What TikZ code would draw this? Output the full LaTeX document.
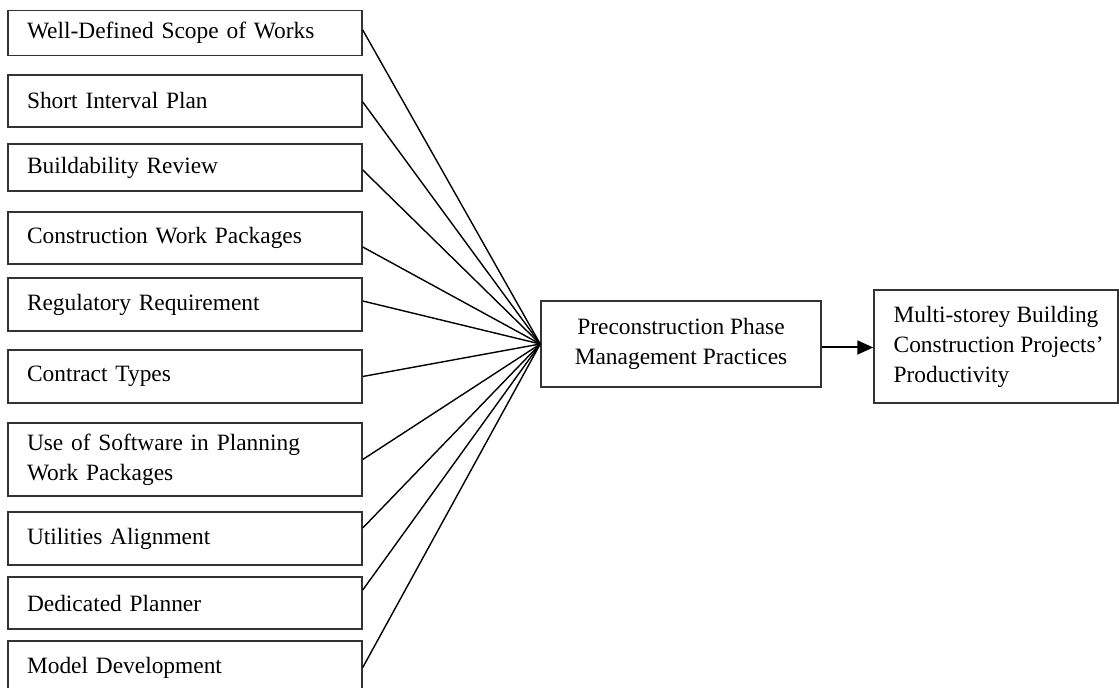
\documentclass[tikz,border=0pt]{standalone}
\usepackage{fontspec}
\setmainfont{Liberation Serif}
\usetikzlibrary{arrows.meta}
\begin{document}
\begin{tikzpicture}[x=0.5pt,y=-0.5pt,
  every node/.style={font=\fontsize{11.7}{15}\selectfont},
  factor/.style={draw=black!80,line width=0.75pt,rectangle,inner xsep=9.5pt,inner ysep=0pt,
    minimum width=177pt,text width=158pt,align=left},
  hub/.style={draw=black!80,line width=0.75pt,rectangle,inner sep=0pt,
    minimum width=140pt,minimum height=43pt,align=center},
  outcome/.style={draw=black!80,line width=0.75pt,rectangle,inner sep=0pt,
    minimum width=122pt,minimum height=56.5pt},
  caption/.style={inner sep=0pt,align=left},
  link/.style={black,line width=0.7pt},
  flow/.style={black,line width=1pt,-{Triangle[length=8pt,width=7pt]}}]
\useasboundingbox (0,0) rectangle (1119,688);
\clip (0,0) rectangle (1119,688);
\fill[white] (0,0) rectangle (1119,688);

% practice factors
\node[factor,minimum height=22.3pt] (f1) at (185,33) {Well-Defined Scope of Works};
\node[factor,minimum height=26pt] (f2) at (185,101) {Short Interval Plan};
\node[factor,minimum height=23.5pt] (f3) at (185,167.5) {Buildability Review};
\node[factor,minimum height=26pt] (f4) at (185,238) {Construction Work Packages};
\node[factor,minimum height=26.5pt] (f5) at (185,304.5) {Regulatory Requirement};
\node[factor,minimum height=26.5pt] (f6) at (185,376.5) {Contract Types};
\node[factor,minimum height=36.5pt] (f7) at (185,459.5) {Use of Software in Planning\\Work Packages};
\node[factor,minimum height=26.5pt] (f8) at (185,538.5) {Utilities Alignment};
\node[factor,minimum height=26pt] (f9) at (185,603) {Dedicated Planner};
\node[factor,minimum height=26.5pt] (f10) at (185,667.5) {Model Development};

% central construct and outcome
\node[hub] (mid) at (681,344) {Preconstruction Phase\\Management Practices};
\node[outcome] (out) at (996,346.5) {};
\node[caption,anchor=west] (outtext) at ([xshift=10pt]out.west)
  {Multi-storey Building\\Construction Projects’\\Productivity};

% links into the central construct
\draw[link] ([yshift=1.5pt]f1.east) -- (mid.west);
\draw[link] ([yshift=-0.5pt]f2.east) -- (mid.west);
\draw[link] ([yshift=-1.25pt]f3.east) -- (mid.west);
\draw[link] ([yshift=-4.5pt]f4.east) -- (mid.west);
\draw[link] ([yshift=1.75pt]f5.east) -- (mid.west);
\draw[link] (f6.east) -- (mid.west);
\draw[link] (f7.east) -- (mid.west);
\draw[link] ([yshift=5.25pt]f8.east) -- (mid.west);
\draw[link] ([yshift=6.5pt]f9.east) -- (mid.west);
\draw[link] (f10.east) -- (mid.west);

% effect on productivity
\coordinate (a) at ([yshift=-1.75pt]mid.east);
\draw[flow] (a) -- (a -| out.west);
\end{tikzpicture}
\end{document}
